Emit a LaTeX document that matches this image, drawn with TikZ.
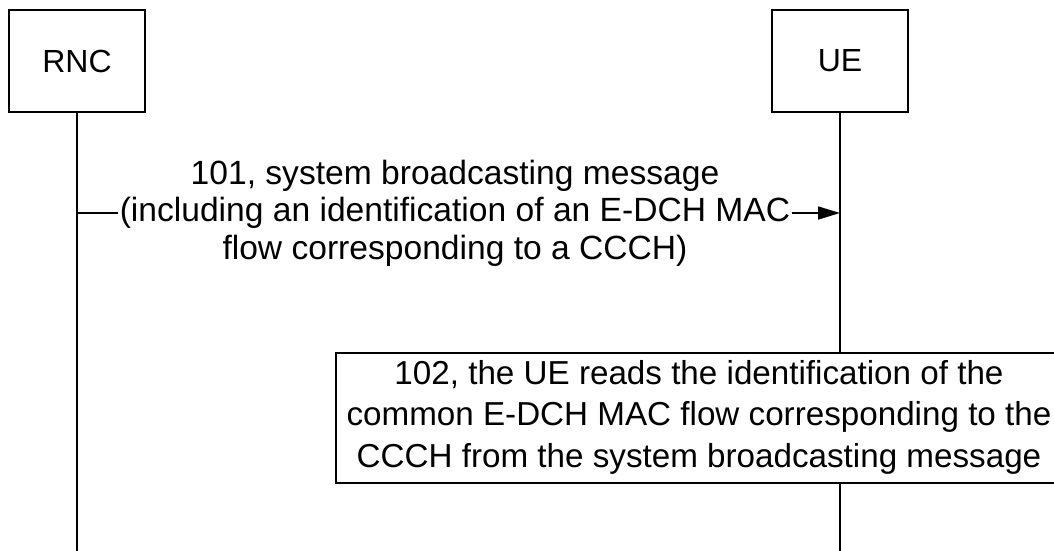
\documentclass[tikz,border=0pt]{standalone}
\usepackage{fontspec}
\setmainfont{Liberation Sans}
\usetikzlibrary{arrows.meta}
\tikzset{
  ent/.style={draw, line width=1.6pt, minimum width=136pt, minimum height=102pt, inner sep=0pt, font=\fontsize{32}{40}\selectfont},
  life/.style={line width=1.6pt},
  msg/.style={line width=1.6pt, -{Triangle[length=22pt,width=13pt]}},
  lbl/.style={fill=white, align=center, inner sep=2pt, font=\fontsize{33.6}{37.5}\selectfont},
  actbox/.style={draw, fill=white, line width=1.6pt},
  acttext/.style={align=center, inner sep=0pt, font=\fontsize{33.2}{41.5}\selectfont}
}
\begin{document}
\begin{tikzpicture}[x=1pt,y=-1pt]
\useasboundingbox (0,0) rectangle (1054,550);
\node[ent] (rnc) at (77,61) {RNC};
\node[ent] (ue) at (840,61) {UE};
\coordinate (rncend) at (77,551);
\coordinate (ueend) at (840,551);
\draw[life] (rnc.south) -- (rncend);
\draw[life] (ue.south) -- (ueend);
\coordinate (m1s) at (77,213);
\coordinate (m1e) at (840,213);
\draw[msg] (m1s) -- (m1e);
\node[lbl] (m1l) at (455,213) {101, system broadcasting message\\(including an identification of an E-DCH MAC\\flow corresponding to a CCCH)};
\draw[actbox] (336,353) rectangle (1066,483);
\node[acttext] (act) at (699,417) {102, the UE reads the identification of the\\common E-DCH MAC flow corresponding to the\\CCCH from the system broadcasting message};
\end{tikzpicture}
\end{document}
